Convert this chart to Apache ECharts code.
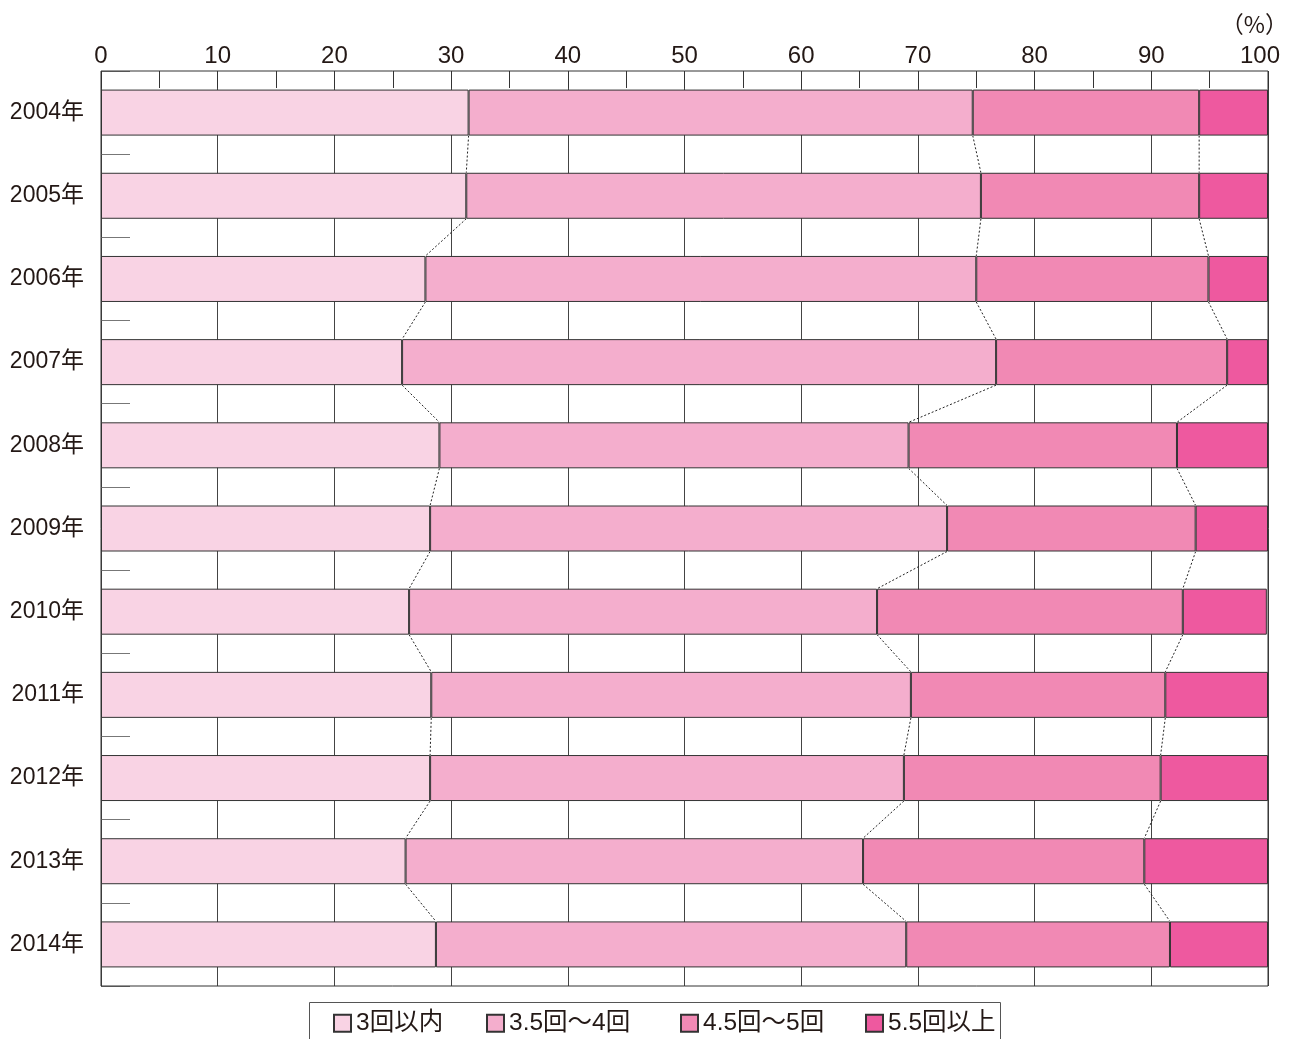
<!DOCTYPE html>
<html>
<head>
<meta charset="utf-8">
<script src="https://cdn.jsdelivr.net/npm/echarts@6/dist/echarts.min.js"></script>
<style>
  html, body { margin: 0; padding: 0; background: #fff; }
  #chart { width: 1292px; height: 1039px; }
</style>
</head>
<body>
<div id="chart"></div>
<script>
// Survey years (top to bottom)
const years = ['2004年', '2005年', '2006年', '2007年', '2008年', '2009年',
               '2010年', '2011年', '2012年', '2013年', '2014年'];

// Share of respondents (%) by frequency band
const within3   = [31.5, 31.3, 27.8, 25.8, 29.0, 28.2, 26.4, 28.3, 28.2, 26.1, 28.7];
const from35to4 = [43.2, 44.1, 47.2, 50.9, 40.2, 44.3, 40.1, 41.1, 40.6, 39.2, 40.3];
const from45to5 = [19.4, 18.7, 19.9, 19.8, 23.0, 21.3, 26.2, 21.8, 22.0, 24.1, 22.6];
const over55    = [5.9, 5.9, 5.1, 3.5, 7.8, 6.2, 7.2, 8.8, 9.2, 10.6, 8.4];

const seriesNames = ['3回以内', '3.5回～4回', '4.5回～5回', '5.5回以上'];
const seriesColors = ['#f9d3e4', '#f4aecd', '#f189b4', '#ee599f'];
const seriesValues = [within3, from35to4, from45to5, over55];

const FONT = "'Liberation Sans', Arial, 'Noto Sans CJK JP', sans-serif";
const TEXT = '#231815';
const BAR_W = 46;

// Cumulative boundary positions for each year (after band 1, 2, 3)
function cumulative(i, k) {
  let s = 0;
  for (let j = 0; j < k; j++) s += seriesValues[j][i];
  return s;
}

// Dotted connectors: from each boundary at the bottom of one bar to the
// same boundary at the top of the next bar
const connectorData = [];
for (let i = 0; i < years.length - 1; i++) {
  for (let k = 1; k <= 3; k++) {
    connectorData.push([cumulative(i, k), i, cumulative(i + 1, k)]);
  }
}

const chart = echarts.init(document.getElementById('chart'), null, { renderer: 'canvas' });

const barSeries = seriesNames.map((name, idx) => ({
  name: name,
  type: 'bar',
  stack: 'total',
  barWidth: BAR_W,
  data: seriesValues[idx],
  itemStyle: { color: seriesColors[idx], borderColor: '#333', borderWidth: 1 },
  emphasis: { disabled: true },
  z: 3
}));

const legendLefts = [333, 486, 680, 865];

const option = {
  animation: false,
  backgroundColor: '#ffffff',
  textStyle: { fontFamily: FONT, color: TEXT },
  grid: {
    left: 101, right: 24, top: 71, bottom: 53,
    show: true, borderColor: '#333', borderWidth: 1, backgroundColor: 'transparent',
    z: 4
  },
  legend: seriesNames.map((name, idx) => ({
    data: [name],
    left: legendLefts[idx],
    top: 1011,
    padding: 0,
    itemWidth: 17,
    itemHeight: 17,
    icon: 'rect',
    selectedMode: false,
    textStyle: { fontSize: 24.5, color: TEXT, fontFamily: FONT, padding: [2, 0, 0, 0] }
  })),
  xAxis: {
    type: 'value',
    position: 'top',
    min: 0,
    max: 100,
    interval: 10,
    axisLine: { show: false },
    axisTick: { show: true, inside: true, length: 17, lineStyle: { color: '#333', width: 1 } },
    minorTick: { show: true, splitNumber: 2, length: 17, lineStyle: { color: '#333', width: 1 } },
    axisLabel: {
      fontSize: 24, color: TEXT, margin: 3, fontFamily: FONT,
      formatter: function (v) { return v === 100 ? '{last|100}' : String(v); },
      rich: { last: { fontSize: 24, color: TEXT, fontFamily: FONT, padding: [0, 16, 0, 0] } }
    },
    splitLine: { show: true, lineStyle: { color: '#444', width: 1 } }
  },
  yAxis: {
    type: 'category',
    inverse: true,
    data: years,
    axisLine: { show: false },
    axisTick: { show: true, inside: true, length: 29, lineStyle: { color: '#777', width: 1 } },
    axisLabel: { fontSize: 23, color: TEXT, margin: 17, fontFamily: FONT, padding: [10, 0, 0, 0] },
    splitLine: { show: false }
  },
  graphic: [
    {
      type: 'text',
      right: 4,
      top: 13,
      style: { text: '（%）', fontSize: 23, fill: TEXT, fontFamily: "'Noto Sans CJK JP', sans-serif" }
    },
    {
      type: 'rect',
      shape: { x: 309.5, y: 1002.5, width: 691, height: 60 },
      style: { fill: 'none', stroke: '#555', lineWidth: 1 },
      silent: true
    }
  ],
  series: barSeries.concat([{
    type: 'custom',
    name: 'connectors',
    data: connectorData,
    encode: { x: 0, y: 1 },
    z: 5,
    silent: true,
    renderItem: function (params, api) {
      const i = api.value(1);
      const p0 = api.coord([api.value(0), i]);
      const p1 = api.coord([api.value(2), i + 1]);
      return {
        type: 'line',
        shape: { x1: p0[0], y1: p0[1] + BAR_W / 2, x2: p1[0], y2: p1[1] - BAR_W / 2 },
        style: { stroke: '#222', lineWidth: 1, lineDash: [2, 2] }
      };
    }
  }])
};

chart.setOption(option);
</script>
</body>
</html>
